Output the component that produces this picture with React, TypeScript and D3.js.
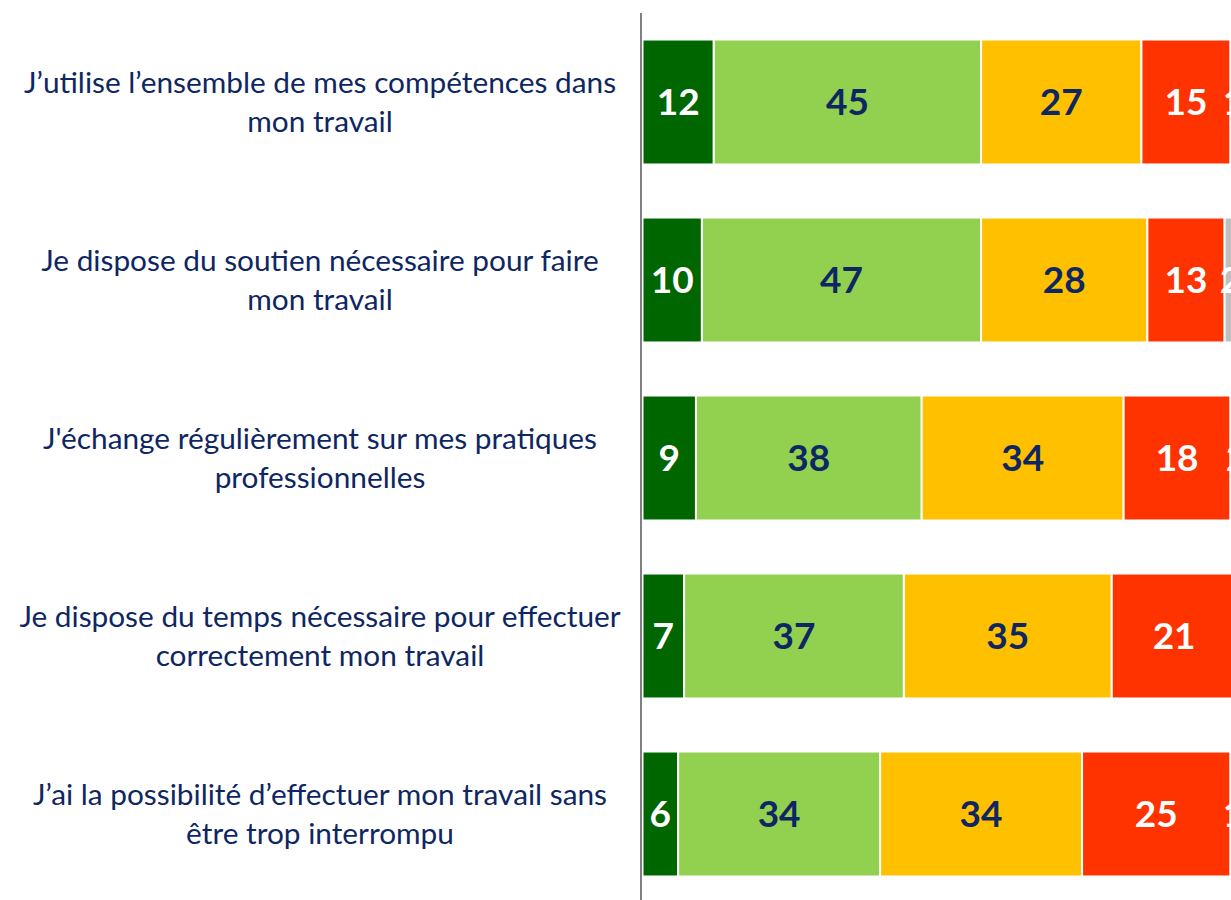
import React from "react";
import * as d3 from "d3";

const categories: string[][] = [
  ["J\u2019utilise l\u2019ensemble de mes compétences dans", "mon travail"],
  ["Je dispose du soutien nécessaire pour faire", "mon travail"],
  ["J'échange régulièrement sur mes pratiques", "professionnelles"],
  ["Je dispose du temps nécessaire pour effectuer", "correctement mon travail"],
  ["J\u2019ai la possibilité d\u2019effectuer mon travail sans", "être trop interrompu"],
];

const toutAFait = [12, 10, 9, 7, 6];
const plutotOui = [45, 47, 38, 37, 34];
const plutotNon = [27, 28, 34, 35, 34];
const pasDuTout = [15, 13, 18, 21, 25];
const nsp = [1, 2, 2, 0, 1];

const seriesValues = [toutAFait, plutotOui, plutotNon, pasDuTout, nsp];
const seriesColors = ["#006600", "#92D050", "#FFC000", "#FF3300", "#BFBFBF"];
const labelColors = ["#FFFFFF", "#0E2763", "#0E2763", "#FFFFFF", "#FFFFFF"];

const W = 1231;
const H = 900;

export default function App() {
  const x = d3.scaleLinear().domain([0, 100]).range([642.5, 1236.5]);
  const y = d3
    .scaleBand<number>()
    .domain(d3.range(categories.length))
    .range([13, 903])
    .paddingInner(0.298)
    .paddingOuter(0.149);

  const stackData = categories.map((_, i) => {
    const row: Record<string, number> = {};
    seriesValues.forEach((s, k) => (row["s" + k] = s[i]));
    return row;
  });
  const keys = seriesValues.map((_, k) => "s" + k);
  const stacked = d3.stack<Record<string, number>>().keys(keys)(stackData);

  const bw = y.bandwidth();

  return (
    <svg
      width={W}
      height={H}
      style={{ position: "absolute", left: 0, top: 0, display: "block", background: "#fff" }}
    >
      {stacked.map((layer, k) => (
        <g key={k}>
          {layer.map((d, i) => {
            const v = d[1] - d[0];
            if (v <= 0) return null;
            const x0 = x(d[0]);
            const x1 = x(d[1]);
            const yy = y(i)!;
            return (
              <g key={i}>
                <rect
                  x={x0}
                  y={yy}
                  width={x1 - x0}
                  height={bw}
                  fill={seriesColors[k]}
                  stroke="#FFFFFF"
                  strokeWidth={2}
                />
                <text
                  x={(x0 + x1) / 2}
                  y={yy + bw / 2}
                  dy="0.36em"
                  textAnchor="middle"
                  fill={labelColors[k]}
                  fontFamily="Lato, 'Open Sans', sans-serif"
                  fontWeight={700}
                  fontSize={37}
                >
                  {v}
                </text>
              </g>
            );
          })}
        </g>
      ))}
      <line x1={641} x2={641} y1={13} y2={H} stroke="#808080" strokeWidth={2} />
      {categories.map((lines, i) => {
        const cy = y(i)! + bw / 2;
        return (
          <text
            key={i}
            x={320}
            textAnchor="middle"
            fill="#0E2763"
            fontFamily="Lato, 'Open Sans', sans-serif"
            fontSize={29.8}
          >
            {lines.map((l, j) => (
              <tspan key={j} x={320} y={cy + (j - (lines.length - 1) / 2) * 39} dy="0.35em">
                {l}
              </tspan>
            ))}
          </text>
        );
      })}
    </svg>
  );
}
